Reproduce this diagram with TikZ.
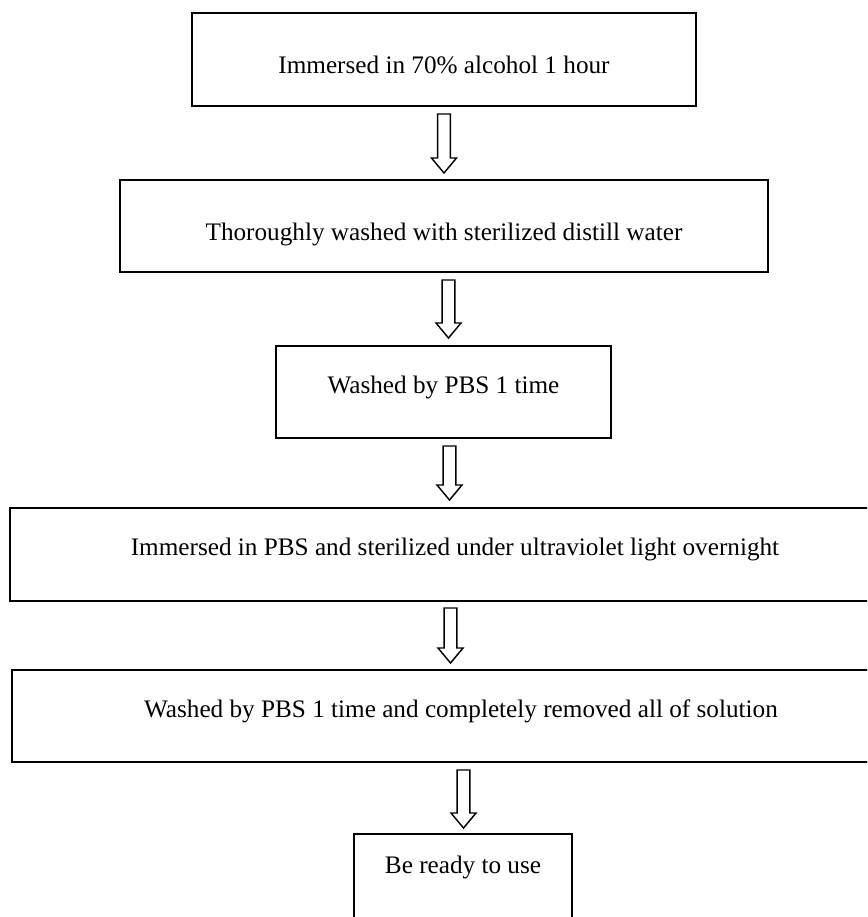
\documentclass[tikz,border=0pt]{standalone}
\usepackage{fontspec}
\setmainfont{Liberation Serif}
\usepackage{tikz}
\usetikzlibrary{calc}

\newcommand{\lift}[2]{\raisebox{#1}[\height][\depth]{#2}}

\tikzset{
	stepbox/.style={shape=rectangle,draw=black,line width=0.9pt,inner sep=0pt,
		minimum height=44.4pt,font=\fontsize{12.1pt}{14pt}\selectfont},
	hollow/.style={line width=0.7pt,
		to path={let \p1=(\tikztostart), \p2=(\tikztotarget) in
			(\x1-3.1pt,\y1) -- (\x1-3.1pt,\y2+7.2pt) -- (\x1-6pt,\y2+7.2pt) -- (\x2,\y2)
			-- (\x1+6pt,\y2+7.2pt) -- (\x1+3.1pt,\y2+7.2pt) -- (\x1+3.1pt,\y1) -- cycle}}
}

\begin{document}
\begin{tikzpicture}[x=0.48pt,y=-0.48pt]
	\useasboundingbox (0,0) rectangle (867,917);
	\clip (0,0) rectangle (867,917);
	\node[stepbox,minimum width=241.9pt] (b1) at (444, 59.5)  {\lift{-2.6pt}{Immersed in 70\% alcohol 1 hour}};
	\node[stepbox,minimum width=311pt]   (b2) at (444, 226)   {\lift{-4pt}{Thoroughly washed with sterilized distill water}};
	\node[stepbox,minimum width=160.8pt] (b3) at (443.5, 392) {\lift{2pt}{Washed by PBS 1 time}};
	\node[stepbox,minimum width=427.2pt] (b4) at (455, 554.5) {\lift{2.2pt}{Immersed in PBS and sterilized under ultraviolet light overnight}};
	\node[stepbox,minimum width=431pt]   (b5) at (461, 716)   {\lift{2.2pt}{Washed by PBS 1 time and completely removed all of solution}};
	\node[stepbox,minimum width=104.6pt] (b6) at (463, 880)   {\lift{6pt}{Be ready to use}};
	% arrow ends
	\coordinate (s1) at (444, 114);   \coordinate (e1) at (444, 173);
	\coordinate (s2) at (448.5, 280); \coordinate (e2) at (448.5, 338);
	\coordinate (s3) at (449.5, 446); \coordinate (e3) at (449.5, 500);
	\coordinate (s4) at (450.5, 608); \coordinate (e4) at (450.5, 663);
	\coordinate (s5) at (463.5, 770); \coordinate (e5) at (463.5, 828);
	\draw[hollow] (s1) to (e1);
	\draw[hollow] (s2) to (e2);
	\draw[hollow] (s3) to (e3);
	\draw[hollow] (s4) to (e4);
	\draw[hollow] (s5) to (e5);
\end{tikzpicture}
\end{document}
